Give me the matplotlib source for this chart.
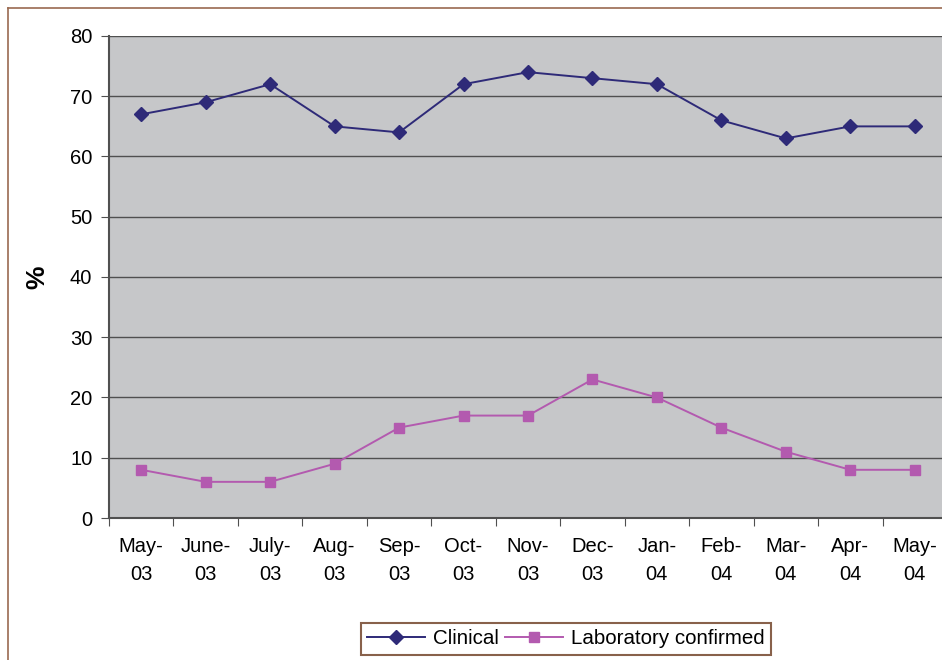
import matplotlib
matplotlib.use("Agg")
import matplotlib.pyplot as plt
from matplotlib.lines import Line2D

months = ["May-\n03", "June-\n03", "July-\n03", "Aug-\n03", "Sep-\n03", "Oct-\n03", "Nov-\n03",
          "Dec-\n03", "Jan-\n04", "Feb-\n04", "Mar-\n04", "Apr-\n04", "May-\n04"]
clinical = [67, 69, 72, 65, 64, 72, 74, 73, 72, 66, 63, 65, 65]
lab_confirmed = [8, 6, 6, 9, 15, 17, 17, 23, 20, 15, 11, 8, 8]
yticks = [0, 10, 20, 30, 40, 50, 60, 70, 80]

plt.rcParams['font.family'] = ['Liberation Sans', 'DejaVu Sans']

W, H = 942, 660
fig = plt.figure(figsize=(W / 100, H / 100), dpi=100)
left, right, top, bottom = 109, 947, 36, 518
ax = fig.add_axes([left / W, 1 - bottom / H, (right - left) / W, (bottom - top) / H])
ax.set_facecolor("#C6C7C9")

x = list(range(len(months)))
ax.plot(x, clinical, color="#2E2A78", marker="D", markersize=7.5, linewidth=1.4, label="Clinical", zorder=3)
ax.plot(x, lab_confirmed, color="#B35AAF", marker="s", markersize=7.5, linewidth=1.4,
        label="Laboratory confirmed", zorder=3)

ax.set_xlim(-0.5, len(months) - 0.5)
ax.set_ylim(0, 80)
ax.set_yticks(yticks)
ax.set_yticklabels([str(v) for v in yticks], fontsize=14.5)
ax.yaxis.grid(True, color="#505050", linewidth=1.0)
ax.set_axisbelow(True)

ax.set_xticks([i + 0.5 for i in range(-1, len(months))])
ax.set_xticklabels([])
ax.set_xticks(x, minor=True)
ax.set_xticklabels(months, minor=True, fontsize=14.5, linespacing=1.6)
ax.tick_params(axis="x", which="minor", length=0, pad=14)
ax.tick_params(axis="x", which="major", length=6, color="#505050", direction="out")
ax.tick_params(axis="y", length=6, color="#505050", direction="out", pad=6)

for s in ["top", "right"]:
    ax.spines[s].set_visible(False)
for s in ["left", "bottom"]:
    ax.spines[s].set_color("#505050")
    ax.spines[s].set_linewidth(1.5)

fig.text(37 / W, 1 - 277 / H, "%", rotation=90, fontsize=19, fontweight="bold",
         ha="center", va="center")

# outer chart border (brown)
bc = "#9A6A50"
fig.add_artist(Line2D([8 / W, 8 / W], [1 - 8 / H, 0], transform=fig.transFigure, color=bc, linewidth=1.2))
fig.add_artist(Line2D([8 / W, 1], [1 - 8 / H, 1 - 8 / H], transform=fig.transFigure, color=bc, linewidth=1.2))

leg = fig.legend(loc="center", bbox_to_anchor=(566 / W, 1 - 639 / H), ncol=2, fontsize=14.8,
                 frameon=True, fancybox=False, handlelength=2.8, handletextpad=0.4,
                 columnspacing=0.3, borderpad=0.3, markerscale=1.0)
leg.get_frame().set_edgecolor("#6B3A1E")
leg.get_frame().set_linewidth(1.5)

fig.savefig("out.png", dpi=100)
